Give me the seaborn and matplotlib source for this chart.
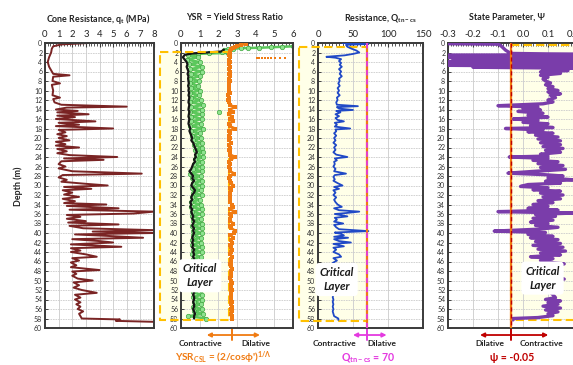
import numpy as np
import pandas as pd
import matplotlib
matplotlib.use("Agg")
import matplotlib.pyplot as plt
import seaborn as sns
from matplotlib.patches import Rectangle
from matplotlib.ticker import MultipleLocator

sns.set_style("ticks")
plt.rcParams['font.family'] = ['Lato', 'DejaVu Sans']
plt.rcParams['mathtext.fontset'] = 'custom'
plt.rcParams['mathtext.rm'] = 'Lato'
plt.rcParams['mathtext.it'] = 'Lato:italic'
plt.rcParams['mathtext.bf'] = 'Lato:bold'

# ---------------- data ----------------
# cone resistance qt (MPa) vs depth (m)
qt_depth = [0.0, 0.3, 0.7, 1.2, 2.0, 3.0, 4.0, 5.0, 6.0, 6.5, 6.8, 7.1, 8.0, 8.5, 8.8,
            10.0, 11.0, 11.5, 11.8, 12.5, 13.0, 13.4, 13.6, 14.0, 14.3, 14.6, 15.0, 15.3,
            15.6, 16.0, 16.5, 16.8, 17.2, 17.5, 18.0, 18.3, 18.8, 19.2, 19.6, 20.0, 20.5,
            20.8, 21.3, 21.6, 22.0, 22.3, 22.8, 23.2, 23.6, 24.0, 24.3, 24.6, 24.9, 25.5,
            26.0, 26.4, 27.0, 27.5, 27.8, 28.3, 28.8, 29.2, 29.6, 30.0, 30.3, 30.7, 31.0,
            31.5, 31.9, 32.4, 32.8, 33.3, 33.7, 34.0, 34.3, 34.8, 35.1, 35.5, 35.9, 36.2,
            36.6, 37.0, 37.5, 37.8, 38.2, 38.5, 39.0, 39.4, 39.7, 40.0, 40.3, 40.6, 41.0,
            41.3, 41.7, 42.0, 42.4, 42.9, 43.2, 43.7, 44.0, 44.5, 45.0, 45.3, 45.8, 46.2,
            46.8, 47.2, 47.8, 48.1, 48.6, 49.0, 49.6, 50.0, 50.4, 51.0, 51.5, 52.0, 52.6,
            53.0, 53.6, 54.0, 54.6, 55.0, 55.5, 56.0, 56.5, 57.0, 57.5, 58.0, 58.2, 58.5, 58.7]
qt_value = [3.2, 1.2, 0.6, 0.5, 0.45, 0.3, 0.2, 0.3, 0.5, 0.6, 1.8, 0.6, 0.55, 1.1, 0.5,
            0.6, 0.55, 1.1, 0.6, 0.7, 1.2, 6.0, 1.6, 0.8, 2.4, 0.9, 3.2, 0.9,
            2.2, 0.8, 3.7, 1.0, 2.5, 0.8, 5.0, 1.0, 1.5, 0.9, 1.6, 1.0, 1.8,
            0.8, 1.5, 0.8, 2.5, 0.9, 1.6, 0.9, 1.8, 5.3, 1.4, 4.3, 1.2, 1.0,
            1.5, 1.0, 2.0, 7.1, 1.3, 1.0, 1.6, 1.2, 2.8, 4.6, 1.4, 3.4, 1.3,
            2.0, 1.4, 2.5, 1.3, 2.2, 1.4, 4.5, 1.6, 5.4, 1.8, 8.0, 6.5, 1.6,
            2.6, 1.6, 3.0, 1.7, 5.4, 1.8, 2.8, 8.0, 3.5, 8.0, 2.2, 4.5, 7.2,
            2.0, 4.0, 5.0, 1.9, 5.6, 1.9, 2.6, 1.9, 3.0, 3.8, 2.0, 2.5, 1.9,
            2.3, 1.9, 4.0, 2.0, 2.3, 2.0, 2.4, 3.5, 2.1, 2.5, 2.1, 2.7, 3.8,
            2.2, 2.6, 2.2, 2.6, 2.3, 2.6, 2.4, 2.8, 2.5, 2.6, 2.7, 5.5, 5.2, 8.0]

# yield stress ratio profiles, sampled every 0.5 m from 2.5 m
ysr_depth = [2.5, 3.0, 3.5, 4.0, 4.5, 5.0, 5.5, 6.0, 6.5, 7.0, 7.5, 8.0, 8.5, 9.0, 9.5,
             10.0, 10.5, 11.0, 11.5, 12.0, 12.5, 13.0, 13.5, 14.0, 14.5, 15.0, 15.5,
             16.0, 16.5, 17.0, 17.5, 18.0, 18.5, 19.0, 19.5, 20.0, 20.5, 21.0, 21.5,
             22.0, 22.5, 23.0, 23.5, 24.0, 24.5, 25.0, 25.5, 26.0, 26.5, 27.0, 27.5,
             28.0, 28.5, 29.0, 29.5, 30.0, 30.5, 31.0, 31.5, 32.0, 32.5, 33.0, 33.5,
             34.0, 34.5, 35.0, 35.5, 36.0, 36.5, 37.0, 37.5, 38.0, 38.5, 39.0, 39.5,
             40.0, 40.5, 41.0, 41.5, 42.0, 42.5, 43.0, 43.5, 44.0, 44.5, 45.0, 45.5,
             46.0, 46.5, 47.0, 47.5, 48.0, 48.5, 49.0, 49.5, 50.0, 50.5, 51.0, 51.5,
             52.0, 52.5, 53.0, 53.5, 54.0, 54.5, 55.0, 55.5, 56.0, 56.5, 57.0, 57.5, 58.0]
ysr_green = [0.35, 0.9, 0.3,
             1.0, 0.45, 1.15, 0.5, 1.1, 0.55, 1.0, 0.5, 0.95, 0.5, 0.9, 0.55,
             1.0, 0.5, 0.95, 0.55, 1.05, 0.5, 1.2, 0.55, 1.15, 0.5, 1.1, 0.55,
             1.15, 0.55, 1.05, 0.5, 1.2, 0.55, 1.0, 0.6, 1.05, 0.65, 1.1, 0.7,
             1.15, 0.75, 1.2, 0.8, 1.2, 0.75, 1.15, 0.7, 1.1, 0.65, 1.1, 0.5,
             1.05, 0.6, 1.15, 0.65, 1.1, 0.6, 1.05, 0.65, 1.1, 0.6, 1.0, 0.55,
             1.05, 0.55, 1.1, 0.6, 1.1, 0.6, 1.05, 0.65, 1.15, 0.6, 1.1, 0.65,
             1.1, 0.65, 1.05, 0.6, 1.05, 0.6, 1.1, 0.65, 1.1, 0.6, 1.05, 0.65,
             1.0, 0.6, 1.05, 0.65, 1.0, 0.65, 1.05, 0.6, 1.05, 0.65, 1.0, 0.6,
             1.05, 0.65, 1.1, 0.65, 1.1, 0.7, 1.05, 0.65, 1.1, 0.7, 1.2, 0.4, 1.35]
ysr_black = [0.2, 0.1, 0.2,
             0.3, 0.35, 0.3, 0.35, 0.4, 0.35, 0.4, 0.38, 0.4, 0.42, 0.38, 0.42,
             0.4, 0.44, 0.4, 0.45, 0.42, 0.4, 0.45, 0.42, 0.4, 0.45, 0.42, 0.4,
             0.45, 0.42, 0.4, 0.45, 0.5, 0.45, 0.5, 0.55, 0.6, 0.55, 0.65, 0.7,
             0.75, 0.8, 0.85, 0.75, 0.8, 0.7, 0.75, 0.65, 0.6, 0.55, 0.45, 0.55,
             0.65, 0.6, 0.7, 0.6, 0.55, 0.65, 0.75, 0.7, 0.6, 0.55, 0.6, 0.5,
             0.55, 0.5, 0.6, 0.55, 0.6, 0.65, 0.6, 0.7, 0.65, 0.6, 0.7, 0.65,
             0.7, 0.65, 0.6, 0.65, 0.6, 0.65, 0.6, 0.7, 0.65, 0.7, 0.65, 0.7,
             0.65, 0.7, 0.65, 0.7, 0.7, 0.65, 0.7, 0.65, 0.7, 0.65, 0.7, 0.7,
             0.65, 0.7, 0.65, 0.7, 0.7, 0.65, 0.7, 0.7, 0.65, 0.7, 0.75, 0.7, 0.7]
ysr_csl = [2.55, 2.6, 2.55,
           2.6, 2.55, 2.6, 2.55, 2.6, 2.55, 2.6, 2.55, 2.6, 2.55, 2.58, 2.55,
           2.55, 2.6, 2.5, 2.55, 2.5, 2.55, 2.6, 2.9, 2.6, 2.8, 2.55, 2.75,
           2.6, 2.8, 2.55, 2.6, 2.9, 2.55, 2.6, 2.55, 2.6, 2.55, 2.7, 2.55,
           2.6, 2.55, 2.6, 2.65, 2.9, 2.7, 2.55, 2.6, 2.55, 2.6, 2.65, 2.85,
           2.6, 2.55, 2.6, 2.7, 2.8, 2.6, 2.7, 2.6, 2.65, 2.6, 2.65, 2.6,
           2.75, 2.8, 2.6, 2.9, 2.65, 2.7, 2.6, 2.65, 2.8, 2.65, 2.7, 2.9,
           2.85, 2.65, 2.8, 2.7, 2.75, 2.65, 2.7, 2.75, 2.7, 2.65, 2.75, 2.7,
           2.7, 2.65, 2.7, 2.75, 2.7, 2.68, 2.7, 2.65, 2.7, 2.72, 2.68, 2.7,
           2.72, 2.7, 2.68, 2.7, 2.7, 2.72, 2.7, 2.72, 2.7, 2.72, 2.7, 2.72, 2.75]

# near-surface portions of the YSR profiles
green_top_depth = [0.7, 0.8, 0.9, 1.0, 1.05, 1.1, 1.2, 1.35, 1.5, 1.7, 1.9, 2.1, 2.2, 2.3]
green_top = [6.0, 5.4, 4.8, 4.2, 3.6, 3.2, 2.8, 2.5, 2.3, 2.4, 2.2, 2.5, 1.5, 0.9]
black_top_depth = [1.4, 1.8, 2.2]
black_top = [2.3, 2.15, 0.6]
csl_top_depth = [0.2, 0.4, 0.6, 0.8, 1.0, 1.3, 1.6, 2.0]
csl_top = [3.5, 3.2, 3.0, 2.9, 2.8, 2.7, 2.65, 2.6]
stray_green_depth = [14.5]
stray_green = [2.05]
stray_csl_depth = [3.1, 3.1, 3.1, 3.1, 3.1, 3.1, 3.1, 3.1, 3.1]
stray_csl = [4.05, 4.2, 4.35, 4.5, 4.65, 4.8, 5.05, 5.3, 5.55]

# normalized clean-sand resistance Qtn,cs
q_depth = [0.0, 0.2, 0.4, 0.8, 1.2, 1.6, 2.0, 2.3, 2.6, 2.9, 3.1, 3.4, 3.8, 4.2, 4.6,
           5.0, 5.5, 6.0, 6.5, 7.0, 7.5, 8.0, 8.5, 9.0, 9.5, 10.0, 10.5, 11.0, 11.5,
           12.0, 12.5, 13.0, 13.3, 13.5, 13.8, 14.1, 14.3, 14.6, 15.0, 15.4, 15.8, 16.2,
           16.5, 16.8, 17.2, 17.6, 18.0, 18.2, 18.6, 19.0, 19.5, 20.0, 20.5, 21.0, 21.5,
           22.0, 22.5, 23.0, 23.5, 24.0, 24.3, 24.7, 25.0, 25.5, 26.0, 26.5, 27.0, 27.5,
           27.8, 28.2, 28.7, 29.0, 29.5, 30.0, 30.3, 30.7, 31.0, 31.5, 32.0, 32.5, 33.0,
           33.5, 34.0, 34.5, 34.8, 35.2, 35.5, 35.8, 36.0, 36.5, 36.8, 37.2, 37.6, 38.0,
           38.3, 38.8, 39.2, 39.6, 39.9, 40.2, 40.5, 40.8, 41.0, 41.3, 41.7, 42.0, 42.3,
           42.8, 43.1, 43.5, 44.0, 44.5, 45.0, 45.3, 45.8, 46.3, 47.0, 47.8, 48.2, 49.0,
           50.0, 50.4, 51.0, 52.0, 52.6, 53.0, 53.5, 54.0, 54.5, 55.0, 55.5, 56.0, 56.5,
           57.0, 57.5, 58.0, 58.3]
q_value = [35, 72, 40, 42, 48, 55, 59, 50, 38, 12, 25, 33, 30, 33, 31,
           34, 30, 33, 31, 34, 30, 31, 29, 31, 28, 30, 28, 31, 27,
           28, 26, 27, 57, 27, 30, 50, 26, 32, 25, 30, 25, 28,
           37, 24, 27, 24, 46, 25, 26, 23, 26, 23, 25, 22, 26,
           23, 25, 22, 26, 42, 24, 27, 23, 24, 22, 25, 23, 40,
           24, 22, 24, 22, 28, 35, 23, 30, 22, 25, 22, 26, 23,
           25, 28, 34, 23, 30, 59, 40, 24, 42, 24, 27, 23, 36,
           23, 26, 30, 72, 24, 33, 37, 23, 43, 23, 30, 47, 22,
           37, 22, 26, 22, 30, 33, 22, 27, 21, 25, 33, 22, 24,
           30, 22, 24, 22, 30, 22, 21, 22, 21, 22, 21, 22, 21,
           22, 23, 29, 29]

# state parameter psi
psi_depth = [0.0, 0.15, 0.25, 0.5, 1.0, 1.5, 2.0, 2.2, 2.4, 2.6, 2.8, 3.0, 3.2, 3.4, 3.6,
             3.9, 4.1, 4.3, 4.5, 4.7, 4.9, 5.1, 5.3, 5.5, 5.8, 6.1, 6.4, 6.8, 7.2, 7.6,
             8.0, 8.4, 8.8, 9.2, 9.6, 10.0, 10.3, 10.7, 11.0, 11.5, 12.0, 12.4, 12.8, 13.2,
             13.5, 13.8, 14.1, 14.4, 14.8, 15.2, 15.6, 16.0, 16.3, 16.7, 17.0, 17.4, 17.8,
             18.0, 18.3, 18.7, 19.0, 19.4, 19.8, 20.2, 20.6, 21.0, 21.4, 21.8, 22.2, 22.6,
             23.0, 23.4, 23.8, 24.0, 24.3, 24.7, 25.0, 25.4, 25.8, 26.2, 26.6, 27.0, 27.4,
             27.7, 28.0, 28.4, 28.8, 29.1, 29.5, 29.8, 30.2, 30.5, 30.9, 31.2, 31.6, 32.0,
             32.4, 32.8, 33.2, 33.6, 34.0, 34.4, 34.8, 35.2, 35.5, 35.8, 36.1, 36.5, 36.9,
             37.3, 37.7, 38.0, 38.4, 38.8, 39.2, 39.6, 39.9, 40.3, 40.7, 41.0, 41.4, 41.8,
             42.2, 42.6, 43.0, 43.4, 43.8, 44.2, 44.6, 45.0, 45.4, 45.8, 46.2, 46.5, 46.8,
             47.5, 48.2, 49.0, 49.7, 50.0, 51.0, 52.0, 53.0, 53.6, 54.0, 54.3, 54.7, 55.0,
             55.4, 55.8, 56.2, 56.6, 57.0, 57.4, 57.8, 58.0, 58.3]
psi_value = [-0.3, -0.3, -0.1, -0.09, -0.08, -0.07, -0.055, -0.04, 0.25, -0.3, 0.25, -0.3,
             0.25, -0.28, 0.25, -0.3, 0.25, -0.25, 0.25, -0.3, 0.25, -0.2, 0.2, 0.08,
             0.18, 0.07, 0.15, 0.07, 0.1, 0.08, 0.09, 0.11, 0.09, 0.12, 0.1, 0.14, 0.1,
             0.15, 0.11, 0.13, 0.1, 0.12, 0.08, -0.1, 0.06, 0.0, 0.07, -0.02, 0.08, 0.02,
             0.1, -0.04, 0.06, 0.0, 0.1, 0.03, 0.12, -0.07, 0.08, 0.02, 0.12, 0.05, 0.14,
             0.06, 0.15, 0.07, 0.15, 0.08, 0.16, 0.09, 0.15, 0.07, 0.1, -0.055, 0.1, 0.04,
             0.14, 0.06, 0.16, 0.07, 0.17, 0.05, -0.06, 0.08, 0.16, 0.1, 0.2, 0.09, 0.15,
             0.02, -0.01, 0.1, 0.04, 0.15, 0.07, 0.16, 0.08, 0.15, 0.06, 0.12, 0.04, 0.1,
             0.02, 0.14, -0.1, 0.2, 0.05, 0.13, 0.04, 0.12, 0.03, 0.1, 0.05, 0.14, 0.06,
             -0.115, 0.09, 0.02, 0.12, 0.03, 0.14, 0.05, 0.15, 0.04, 0.16, 0.06, 0.17,
             0.07, 0.15, 0.03, 0.12, 0.07, 0.11, 0.165, 0.1, 0.12, 0.1, 0.12, 0.165, 0.1,
             0.12, 0.1, 0.12, 0.13, 0.09, 0.15, 0.1, 0.14, 0.08, 0.15, 0.09, 0.14, 0.1,
             0.12, 0.06, -0.04, -0.04]

# thresholds and critical-layer limits
ysr_csl_label = 2.75
qtn_cs_limit = 70
psi_limit = -0.05
crit_top = [1.9, 0.8, 0.4]
crit_bottom = [58.3, 58.5, 58.3]
depth_ticks = list(range(0, 61, 2))

# ---------------- figure ----------------
W, H = 573, 365
fig = plt.figure(figsize=(W / 100, H / 100), dpi=100)
fig.patch.set_facecolor('white')


def px_box(left, right, top=43, bottom=328):
    return [left / W, (H - bottom) / H, (right - left) / W, (bottom - top) / H]


ax1 = fig.add_axes(px_box(45, 154))
ax2 = fig.add_axes(px_box(181, 293))
ax3 = fig.add_axes(px_box(318, 423))
ax4 = fig.add_axes(px_box(448, 598))

SPINE = '#3a3a3a'
FILL = '#FFFFE8'
GOLD = '#FFC000'
ORANGE = '#F07B12'
MAGENTA = '#E43AE0'
RED = '#C00000'


def style(ax, xlim, major, minor):
    ax.set_xlim(*xlim)
    ax.set_ylim(60, 0)
    ax.set_xticks(major)
    ax.xaxis.set_minor_locator(MultipleLocator(minor))
    ax.set_yticks(depth_ticks)
    ax.xaxis.tick_top()
    ax.tick_params(axis='x', which='major', direction='in', length=3, width=0.8,
                   labelsize=6.8, pad=3, labelcolor='#222222', color=SPINE,
                   top=True, bottom=False)
    ax.tick_params(axis='x', which='minor', direction='in', length=2, width=0.6,
                   color=SPINE, top=True, bottom=False)
    ax.tick_params(axis='y', which='major', direction='in', length=2, width=0.6,
                   labelsize=5.0, pad=2, labelcolor='#333333', left=True, right=False)
    ax.set_axisbelow(True)
    ax.grid(True, axis='x', color='#d2d2d2', lw=0.7)
    ax.grid(True, axis='y', color='#cccccc', lw=0.6, ls=(0, (2, 1)))
    for s in ax.spines.values():
        s.set_color(SPINE)
        s.set_linewidth(1.4)


style(ax1, (0, 8), list(range(0, 9)), 0.2)
style(ax2, (0, 6), list(range(0, 7)), 0.2)
style(ax3, (0, 150), [0, 50, 100, 150], 5)
style(ax4, (-0.3, 0.3), [-0.3, -0.2, -0.1, 0.0, 0.1, 0.2, 0.3], 0.01)
ax4.set_xticklabels(['-0.3', '-0.2', '-0.1', '0.0', '0.1', '0.2', '0.3'])


def crit_box(ax, x0, x1, top, bottom):
    ax.add_patch(Rectangle((x0, top), x1 - x0, bottom - top, facecolor=FILL,
                           edgecolor='none', zorder=0.1, clip_on=False))
    ax.add_patch(Rectangle((x0, top), x1 - x0, bottom - top, facecolor='none',
                           edgecolor=GOLD, lw=1.5, ls=(0, (4, 2)), zorder=3,
                           clip_on=False))


crit_box(ax2, -1.12, 2.55, crit_top[0], crit_bottom[0])
crit_box(ax3, -27, qtn_cs_limit, crit_top[1], crit_bottom[1])
crit_box(ax4, psi_limit, 0.35, crit_top[2], crit_bottom[2])

# panel 1: cone resistance
d1 = pd.DataFrame({'depth': qt_depth, 'qt': qt_value})
sns.lineplot(data=d1, x='qt', y='depth', sort=False, estimator=None, ax=ax1,
             color='#7A2424', lw=1.4)

# panel 2: yield stress ratio
dg = pd.DataFrame({'depth': green_top_depth + ysr_depth, 'ysr': green_top + ysr_green})
sns.lineplot(data=dg, x='ysr', y='depth', sort=False, estimator=None, ax=ax2,
             color='#5CC85C', lw=1.8, marker='o', markersize=3.2,
             markerfacecolor='#8FE38F', markeredgecolor='#3FA83F', markeredgewidth=0.5)
sns.scatterplot(x=stray_green, y=stray_green_depth, ax=ax2, color='#8FE38F',
                edgecolor='#3FA83F', s=10, linewidth=0.5)
db = pd.DataFrame({'depth': black_top_depth + ysr_depth, 'ysr': black_top + ysr_black})
sns.lineplot(data=db, x='ysr', y='depth', sort=False, estimator=None, ax=ax2,
             color='#151515', lw=1.6)
dc = pd.DataFrame({'depth': csl_top_depth + ysr_depth, 'ysr': csl_top + ysr_csl})
sns.lineplot(data=dc, x='ysr', y='depth', sort=False, estimator=None, ax=ax2,
             color=ORANGE, lw=1.8, marker='s', markersize=2.2, markeredgewidth=0,
             zorder=4)
sns.scatterplot(x=stray_csl, y=stray_csl_depth, ax=ax2, color=ORANGE,
                marker='s', s=2.5, linewidth=0, zorder=4)

# panel 3: normalized resistance
d3 = pd.DataFrame({'depth': q_depth, 'q': q_value})
sns.lineplot(data=d3, x='q', y='depth', sort=False, estimator=None, ax=ax3,
             color='#2049C6', lw=1.3, zorder=3)
ax3.plot([qtn_cs_limit, qtn_cs_limit], [0, 60], color=ORANGE, lw=1.6, zorder=4)
ax3.plot([qtn_cs_limit, qtn_cs_limit], [0, 60], color=MAGENTA, lw=1.3,
         ls=(0, (3, 2)), zorder=4)

# panel 4: state parameter
d4 = pd.DataFrame({'depth': psi_depth, 'psi': psi_value})
sns.lineplot(data=d4, x='psi', y='depth', sort=False, estimator=None, ax=ax4,
             color='#7A3DAA', lw=2.4, zorder=3)
ax4.plot([psi_limit, psi_limit], [0, 60], color=ORANGE, lw=1.6, zorder=4)
ax4.plot([psi_limit, psi_limit], [0, 60], color=RED, lw=1.0,
         ls=(0, (3, 2)), zorder=4)

for ax in (ax1, ax2, ax3, ax4):
    ax.set_xlabel('')
    ax.set_ylabel('')
    ax.set_ylim(60, 0)
ax1.set_xlim(0, 8)
ax2.set_xlim(0, 6)
ax3.set_xlim(0, 150)
ax4.set_xlim(-0.3, 0.3)

# critical layer labels
box_kw = dict(boxstyle='round,pad=0.35', facecolor='white', edgecolor='none')
for ax, xc, yc in ((ax2, 1.02, 49.0), (ax3, 26.5, 49.8), (ax4, 0.078, 49.5)):
    ax.text(xc, yc, 'Critical\nLayer', ha='center', va='center', fontsize=8.2,
            fontweight='bold', fontstyle='italic', color='#1a1a1a',
            linespacing=1.35, bbox=box_kw, zorder=6)


# panel titles and depth label
def ftxt(x, y, s, **kw):
    fig.text(x / W, 1 - y / H, s, ha='center', va='center', **kw)


ftxt(98, 19, r'Cone Resistance, q$_\mathbf{t}$ (MPa)', fontsize=6.4, fontweight='bold',
     color='#222222')
ftxt(235, 17, 'YSR  = Yield Stress Ratio', fontsize=6.4, fontweight='bold',
     color='#222222')
ftxt(380, 18, r'Resistance, Q$_\mathbf{tn-cs}$', fontsize=6.4, fontweight='bold',
     color='#222222')
ftxt(507, 17, 'State Parameter, Ψ', fontsize=6.4, fontweight='bold', color='#222222')
fig.text(18 / W, 1 - 186 / H, 'Depth (m)', rotation=90, ha='center', va='center',
         fontsize=6.4, fontweight='bold', color='#222222')


# contractive / dilative arrows under the panels
def arrows(ax, x0, x1, xm, color, left_lbl, right_lbl, xl, xr, formula, xf, fsize):
    tr = ax.get_xaxis_transform()
    ax.annotate('', xy=(x1, -0.0246), xytext=(x0, -0.0246), xycoords=tr, textcoords=tr,
                arrowprops=dict(arrowstyle='<|-|>', color=color, lw=1.3,
                                mutation_scale=6, shrinkA=0, shrinkB=0),
                annotation_clip=False)
    ax.plot([xm, xm], [-0.004, -0.042], transform=tr, color=color, lw=1.4,
            clip_on=False)
    ax.text(xl, -0.056, left_lbl, transform=tr, ha='center', va='center',
            fontsize=6.0, fontweight='bold', color='#222222')
    ax.text(xr, -0.056, right_lbl, transform=tr, ha='center', va='center',
            fontsize=6.0, fontweight='bold', color='#222222')
    ax.text(xf, -0.105, formula, transform=tr, ha='center', va='center',
            fontsize=fsize, fontweight='bold', color=color)


arrows(ax2, 1.38, 4.23, ysr_csl_label, ORANGE, 'Contractive', 'Dilative', 1.02, 4.0,
       r"YSR$_\mathbf{CSL}$ = (2/cosϕ')$^\mathbf{1/\Lambda}$", 2.25, 7.2)
arrows(ax3, 50, 98, qtn_cs_limit, MAGENTA, 'Contractive', 'Dilative', 24, 91,
       r'Q$_\mathbf{tn-cs}$ = 70', 71, 7.6)
arrows(ax4, -0.172, 0.101, psi_limit, RED, 'Dilative', 'Contractive', -0.132, 0.075,
       'ψ = -0.05', -0.045, 7.6)

fig.savefig('out.png', dpi=100, facecolor='white')
